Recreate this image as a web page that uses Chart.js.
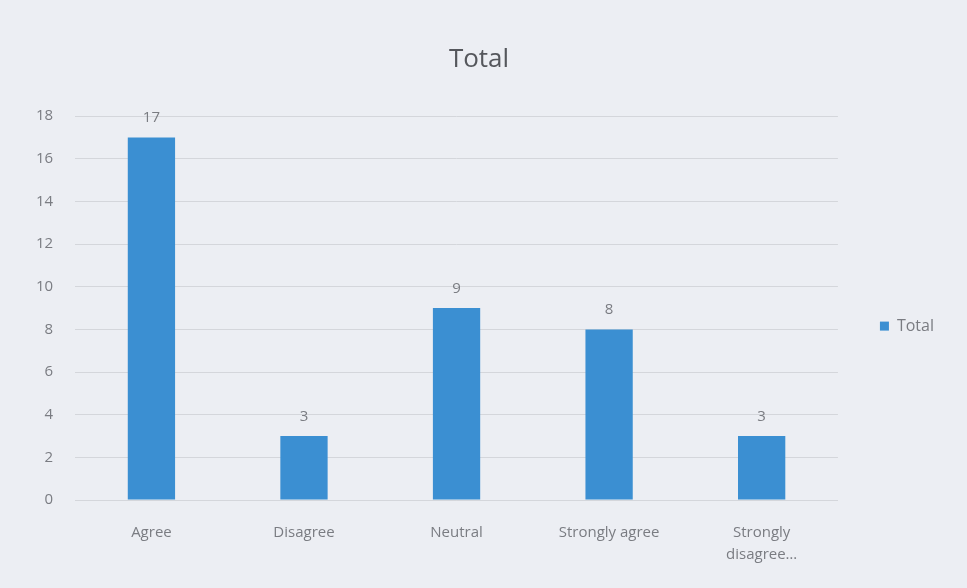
<!DOCTYPE html>
<html>
<head>
<meta charset="utf-8">
<script src="https://cdn.jsdelivr.net/npm/chart.js@4"></script>
<style>
  html, body { margin: 0; padding: 0; background: #eceef3; }
  #wrap { width: 967px; height: 588px; }
</style>
</head>
<body>
<div id="wrap"><canvas id="chart" width="967" height="588"></canvas></div>
<script>
// ===== Datos =====
const categories = ['Agree', 'Disagree', 'Neutral', 'Strongly agree', ['Strongly', 'disagree…']];
const totals = [17, 3, 9, 8, 3];
const yTicks = [0, 2, 4, 6, 8, 10, 12, 14, 16, 18];

const TEXT = '#7a7c82';
const BAR = '#3b8fd2';

// fondo del lienzo
const bgPlugin = {
  id: 'bg',
  beforeDraw(chart) {
    const { ctx, width, height } = chart;
    ctx.save();
    ctx.fillStyle = '#eceef3';
    ctx.fillRect(0, 0, width, height);
    ctx.restore();
  }
};

// etiquetas de valor sobre cada barra
const valueLabels = {
  id: 'valueLabels',
  afterDatasetsDraw(chart) {
    const { ctx } = chart;
    const meta = chart.getDatasetMeta(0);
    ctx.save();
    ctx.font = '15px "Open Sans", sans-serif';
    ctx.fillStyle = TEXT;
    ctx.textAlign = 'center';
    ctx.textBaseline = 'bottom';
    meta.data.forEach((bar, i) => {
      ctx.fillText(String(totals[i]), bar.x, bar.y - 12);
    });
    ctx.restore();
  }
};

new Chart(document.getElementById('chart'), {
  type: 'bar',
  data: {
    labels: categories,
    datasets: [{
      label: 'Total',
      data: totals,
      backgroundColor: BAR,
      borderWidth: 0,
      categoryPercentage: 1,
      barPercentage: 0.31
    }]
  },
  options: {
    responsive: false,
    animation: false,
    layout: { padding: { left: 14, right: 23, top: 44, bottom: 9 } },
    plugins: {
      title: {
        display: true,
        text: 'Total',
        color: '#55575c',
        font: { family: '"Open Sans", sans-serif', size: 26, weight: 'normal' },
        padding: { top: 0, bottom: 41 }
      },
      legend: {
        position: 'right',
        // título vacío solo para bajar la entrada de la leyenda
        title: {
          display: true,
          text: ' ',
          font: { size: 16 },
          padding: { top: 10, bottom: 0 }
        },
        labels: {
          color: TEXT,
          boxWidth: 9,
          boxHeight: 9,
          padding: 8,
          font: { family: '"Open Sans", sans-serif', size: 16 }
        }
      },
      tooltip: { enabled: false }
    },
    scales: {
      x: {
        grid: { display: false },
        border: { color: '#d4d6db' },
        ticks: {
          color: TEXT,
          padding: 13,
          maxRotation: 0,
          font: { family: '"Open Sans", sans-serif', size: 15, lineHeight: 1.5 }
        }
      },
      y: {
        min: 0,
        max: 18,
        afterBuildTicks(axis) { axis.ticks = yTicks.map(v => ({ value: v })); },
        grid: { color: '#d4d6db', drawTicks: false },
        border: { display: false },
        ticks: {
          color: TEXT,
          padding: 22,
          font: { family: '"Open Sans", sans-serif', size: 15 }
        }
      },
      // hueco vacío entre el área del gráfico y la leyenda
      gap: {
        type: 'linear',
        position: 'right',
        display: true,
        grid: { display: false },
        border: { display: false },
        ticks: { display: false },
        afterFit(axis) { axis.width = 34; }
      }
    }
  },
  plugins: [bgPlugin, valueLabels]
});
</script>
</body>
</html>
